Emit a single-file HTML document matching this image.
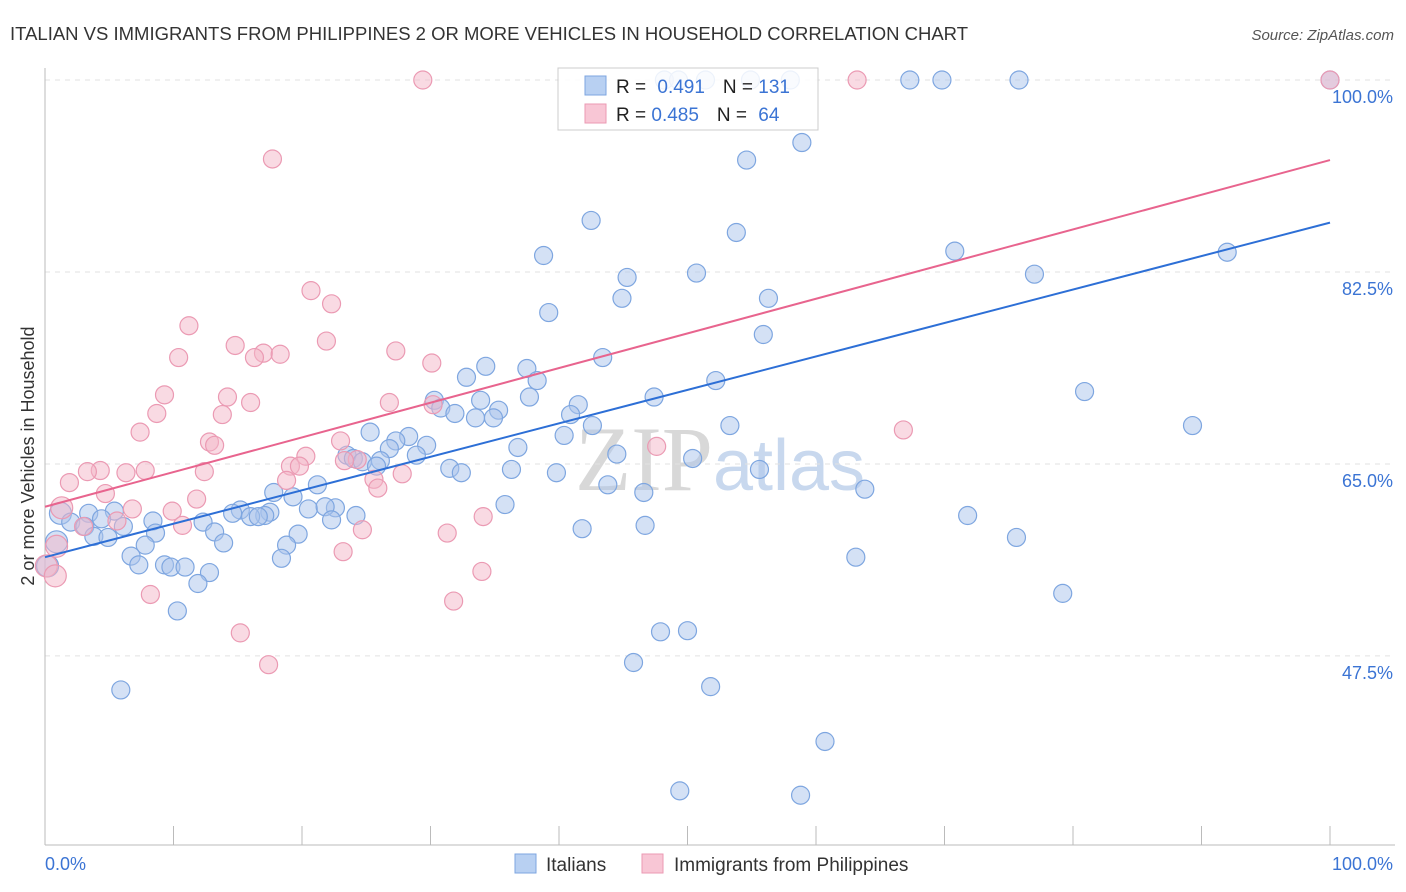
<!DOCTYPE html>
<html><head><meta charset="utf-8">
<style>
body{margin:0;background:#fff;font-family:"Liberation Sans",sans-serif;}
#wrap{position:relative;width:1406px;height:892px;overflow:hidden;}
</style></head>
<body>
<div id="wrap">
<svg id="chart" width="1406" height="892" xmlns="http://www.w3.org/2000/svg">
<text x="10" y="40" font-size="18" fill="#333" textLength="958" lengthAdjust="spacingAndGlyphs">ITALIAN VS IMMIGRANTS FROM PHILIPPINES 2 OR MORE VEHICLES IN HOUSEHOLD CORRELATION CHART</text>
<text x="1394" y="40" font-size="15" fill="#555" font-style="italic" text-anchor="end">Source: ZipAtlas.com</text>
<text x="720" y="490" font-size="92" fill="#dfe6ef" text-anchor="middle" font-family="Liberation Serif,serif"><tspan fill="#d8d8d8">ZIP</tspan><tspan font-family="Liberation Sans,sans-serif" font-size="72" fill="#c8d8ee">atlas</tspan></text>
<g id="grid"></g>
<g id="axes"></g>
<g id="pts"></g>
<g id="lines"></g>
<text transform="translate(34,456) rotate(-90)" font-size="18" fill="#333" text-anchor="middle">2 or more Vehicles in Household</text>
<g>
<rect x="558" y="68" width="260" height="62" fill="#fff" fill-opacity="0.85" stroke="#ccc"/>
<rect x="585" y="76" width="21" height="19" fill="#b8d0f2" stroke="#7ea6e0"/>
<rect x="585" y="104" width="21" height="19" fill="#f8c6d5" stroke="#eb9ab3"/>
<text x="616" y="93" font-size="19" fill="#222">R = <tspan fill="#3b74d4" dx="6">0.491</tspan><tspan dx="18" fill="#222">N = </tspan><tspan fill="#3b74d4">131</tspan></text>
<text x="616" y="121" font-size="19" fill="#222">R = <tspan fill="#3b74d4">0.485</tspan><tspan dx="18" fill="#222">N = </tspan><tspan fill="#3b74d4" dx="6">64</tspan></text>
</g>
<g>
<rect x="515" y="854" width="21" height="19" fill="#b8d0f2" stroke="#7ea6e0"/>
<text x="546" y="871" font-size="19" fill="#333">Italians</text>
<rect x="642" y="854" width="21" height="19" fill="#f8c6d5" stroke="#eb9ab3"/>
<text x="674" y="871" font-size="19" fill="#333">Immigrants from Philippines</text>
</g>
</svg>
</div>
<script>
const yTicks=[100,82.5,65,47.5];
const yTickLabels=["100.0%","82.5%","65.0%","47.5%"];
const xTickLabels=["0.0%","100.0%"];
const blueX=[100,67.3,69.8,75.8,48.2,49.3,51.4,54.9,58.0,58.9,54.6,42.5,53.8,38.8,70.8,77.0,92.0,45.3,50.7,44.9,56.3,39.2,55.9,43.4,34.3,37.5,38.3,32.8,52.2,80.9,47.4,37.7,30.3,41.5,33.9,35.3,40.9,30.8,31.9,33.5,34.9,53.3,89.3,40.4,42.6,25.3,28.3,36.8,27.3,29.7,26.8,23.5,28.9,44.5,24.0,24.7,26.1,25.8,50.4,36.3,31.5,32.4,55.6,39.8,43.8,21.2,17.8,46.6,63.8,19.3,22.6,20.5,21.8,35.8,15.2,17.5,14.6,17.1,16.0,16.6,24.2,22.3,71.8,1.2,3.4,5.4,2.0,4.4,8.4,12.3,6.1,46.7,41.8,3.1,8.6,13.2,19.7,3.8,4.9,13.9,18.8,7.8,75.6,0.9,6.7,18.4,63.1,7.3,9.3,9.8,10.9,12.8,11.9,10.3,79.2,47.9,50.0,45.8,51.8,5.9,60.7,49.4,58.8,0.2];
const blueY=[100,100,100,100,100,100,100,100,100,94.3,92.7,87.2,86.1,84.0,84.4,82.3,84.3,82.0,82.4,80.1,80.1,78.8,76.8,74.7,73.9,73.7,72.6,72.9,72.6,71.6,71.1,71.1,70.8,70.4,70.8,69.9,69.5,70.1,69.6,69.2,69.2,68.5,68.5,67.6,68.5,67.9,67.5,66.5,67.1,66.7,66.4,65.8,65.8,65.9,65.5,65.2,65.3,64.8,65.5,64.5,64.6,64.2,64.5,64.2,63.1,63.1,62.4,62.4,62.7,62.0,61.0,60.9,61.1,61.3,60.8,60.6,60.5,60.3,60.2,60.2,60.3,59.9,60.3,60.5,60.5,60.7,59.7,60.0,59.8,59.7,59.3,59.4,59.1,59.3,58.7,58.8,58.6,58.4,58.3,57.8,57.6,57.6,58.3,57.9,56.6,56.4,56.5,55.8,55.8,55.6,55.6,55.1,54.1,51.6,53.2,49.7,49.8,46.9,44.7,44.4,39.7,35.2,34.8,55.7];
const pinkX=[29.4,63.2,100,17.7,20.7,22.3,11.2,21.9,14.8,10.4,27.3,17.0,18.3,16.3,30.1,9.3,14.2,16.0,8.7,26.8,13.8,30.2,7.4,12.8,13.2,23.0,20.3,24.3,12.4,19.1,4.3,6.3,7.8,3.3,27.8,25.6,1.9,19.8,18.8,25.9,4.7,11.8,1.3,6.8,9.9,5.6,10.7,3.0,24.7,31.3,34.1,0.9,23.2,0.1,0.8,34.0,8.2,31.8,15.2,17.4,47.6,66.8,23.3];
const pinkY=[100,100,100,92.8,80.8,79.6,77.6,76.2,75.8,74.7,75.3,75.1,75.0,74.7,74.2,71.3,71.1,70.6,69.6,70.6,69.5,70.4,67.9,67.0,66.7,67.1,65.7,65.4,64.3,64.8,64.4,64.2,64.4,64.3,64.1,63.6,63.3,64.8,63.5,62.8,62.3,61.8,61.0,60.9,60.7,59.8,59.4,59.3,59.0,58.7,60.2,57.5,57.0,55.7,54.8,55.2,53.1,52.5,49.6,46.7,66.6,68.1,65.3];
const blueTrend=[56.5,87.0];
const pinkTrend=[61.1,92.7];

const NS="http://www.w3.org/2000/svg";
const X=v=>45+v*12.85;
const Y=v=>80+(100-v)*10.97;
function mk(tag,attrs,parent){const e=document.createElementNS(NS,tag);for(const k in attrs)e.setAttribute(k,attrs[k]);parent.appendChild(e);return e;}
const grid=document.getElementById('grid'),axes=document.getElementById('axes'),pts=document.getElementById('pts'),lines=document.getElementById('lines');
yTicks.forEach((t,i)=>{
  const l=mk('line',{x1:45,x2:1395,y1:Y(t),y2:Y(t),stroke:'#e2e2e2','stroke-dasharray':'5,5'},grid);
  
  
  const tx=mk('text',{x:1393,y:Y(t)+23,'font-size':18,fill:'#3b74d4','text-anchor':'end'},axes);
  tx.textContent=yTickLabels[i];
  
  
});
const ax=mk('line',{x1:45,x2:1395,y1:845,y2:845,stroke:'#bbb'},axes);


const ay=mk('line',{x1:45,x2:45,y1:68,y2:845,stroke:'#bbb'},axes);


for(let i=0;i<=10;i++){
  const t=mk('line',{x1:X(i*10),x2:X(i*10),y1:826,y2:845,stroke:'#bbb'},axes);
  
  
}
const xl0=mk('text',{x:45,y:870,'font-size':18,fill:'#3b74d4'},axes);
xl0.textContent=xTickLabels[0];


const xl1=mk('text',{x:1393,y:870,'font-size':18,fill:'#3b74d4','text-anchor':'end'},axes);
xl1.textContent=xTickLabels[1];


blueX.forEach((v,i)=>{
  const c=mk('circle',{cx:X(v),cy:Y(blueY[i]),r:v<1.5?11:9,fill:'#a9c4ec','fill-opacity':0.5,stroke:'#7ea6e0','stroke-width':1.2},pts);
  
  
});
pinkX.forEach((v,i)=>{
  const c=mk('circle',{cx:X(v),cy:Y(pinkY[i]),r:v<1.5?11:9,fill:'#f4b6c8','fill-opacity':0.5,stroke:'#eb9ab3','stroke-width':1.2},pts);
  
  
});
const bl=mk('line',{x1:X(0),y1:Y(blueTrend[0]),x2:X(100),y2:Y(blueTrend[1]),stroke:'#2d6fd6','stroke-width':2},lines);


const pl=mk('line',{x1:X(0),y1:Y(pinkTrend[0]),x2:X(100),y2:Y(pinkTrend[1]),stroke:'#e8648e','stroke-width':2},lines);


</script>
</body></html>
